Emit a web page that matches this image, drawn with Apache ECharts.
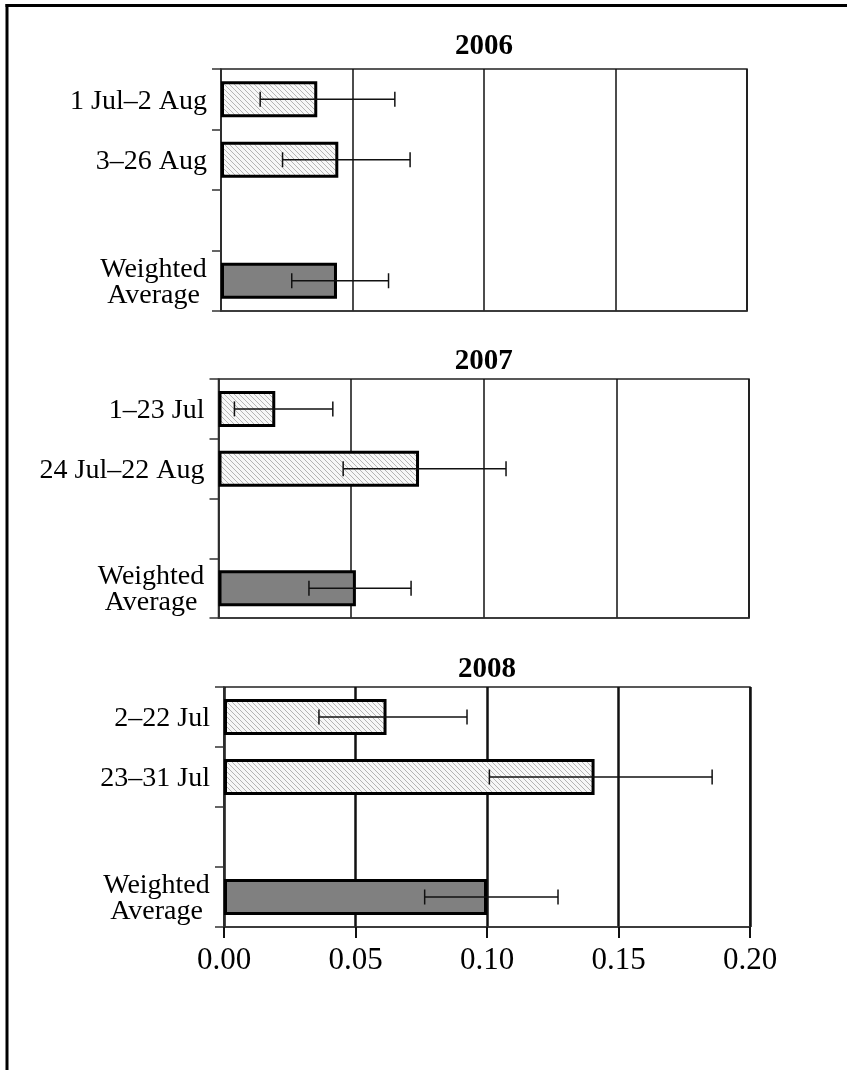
<!DOCTYPE html>
<html>
<head>
<meta charset="utf-8">
<title>Weighted averages 2006–2008</title>
<script src="https://cdn.jsdelivr.net/npm/echarts@6/dist/echarts.min.js"></script>
<style>
  html, body { margin: 0; padding: 0; background: #fff; }
  #chart { width: 847px; height: 1070px; }
</style>
</head>
<body>
<div id="chart"></div>
<script>
// Period labels per season (third slot is an intentional gap before the average)
const cats2006 = ['1 Jul–2 Aug', '3–26 Aug', '', 'Weighted\nAverage'];
const cats2007 = ['1–23 Jul', '24 Jul–22 Aug', '', 'Weighted\nAverage'];
const cats2008 = ['2–22 Jul', '23–31 Jul', '', 'Weighted\nAverage'];

// Estimates
const vals2006 = [0.0366, 0.0446, null, 0.0441];
const vals2007 = [0.0214, 0.0756, null, 0.0518];
const vals2008 = [0.0618, 0.1409, null, 0.1000];

// Lower / upper confidence limits
const low2006 = [0.0149, 0.0234, null, 0.0269];
const high2006 = [0.0661, 0.0719, null, 0.0637];
const low2007 = [0.0060, 0.0470, null, 0.0341];
const high2007 = [0.0431, 0.1084, null, 0.0726];
const low2008 = [0.0361, 0.1009, null, 0.0763];
const high2008 = [0.0924, 0.1856, null, 0.1270];

const years = ['2006', '2007', '2008'];
const xTicks = [0.00, 0.05, 0.10, 0.15, 0.20];

const SERIF = '"Liberation Serif", "DejaVu Serif", serif';
const CAT_SIZE = 28;

// Width of the widest line of a two-line label, so both lines centre on each other
function textWidth(str, size) {
  const ctx = document.createElement('canvas').getContext('2d');
  ctx.font = size + 'px ' + SERIF;
  return Math.ceil(ctx.measureText(str).width);
}

// Diagonal hatch tile for the sub-period bars
function hatchPattern() {
  const s = 5;
  const c = document.createElement('canvas');
  c.width = s; c.height = s;
  const g = c.getContext('2d');
  g.fillStyle = '#f7f7f7';
  g.fillRect(0, 0, s, s);
  g.strokeStyle = '#b4b4b4';
  g.lineWidth = 1;
  g.beginPath();
  g.moveTo(0, 0); g.lineTo(s, s);
  g.moveTo(-1, s - 1); g.lineTo(1, s + 1);
  g.moveTo(s - 1, -1); g.lineTo(s + 1, 1);
  g.stroke();
  return { image: c, repeat: 'repeat' };
}
const hatch = hatchPattern();

const panels = [
  { cats: cats2006, vals: vals2006, low: low2006, high: high2006,
    grid: { left: 221, top: 69, width: 526, height: 242 }, bold: false, titleGap: 37 },
  { cats: cats2007, vals: vals2007, low: low2007, high: high2007,
    grid: { left: 218.5, top: 379, width: 530.5, height: 239 }, bold: false, titleGap: 32 },
  { cats: cats2008, vals: vals2008, low: low2008, high: high2008,
    grid: { left: 224, top: 687, width: 526, height: 240 }, bold: true, titleGap: 32 }
];

const grids = [], xAxes = [], yAxes = [], series = [], titles = [];

panels.forEach((p, i) => {
  const last = i === panels.length - 1;
  grids.push(Object.assign({
    show: true, borderColor: '#222', borderWidth: 1.5, backgroundColor: 'transparent'
  }, p.grid));

  xAxes.push({
    gridIndex: i, type: 'value', min: xTicks[0], max: xTicks[xTicks.length - 1], interval: 0.05,
    axisLine: { show: true, lineStyle: { color: '#333', width: 1.5 } },
    axisTick: { show: last, length: 11, lineStyle: { color: '#111', width: 2 } },
    axisLabel: {
      show: last, margin: 18, fontFamily: SERIF, fontSize: 31, color: '#000',
      formatter: v => v.toFixed(2)
    },
    splitLine: { show: true, lineStyle: { color: '#111', width: p.bold ? 2.5 : 1.5 } }
  });

  yAxes.push({
    gridIndex: i, type: 'category', data: p.cats, inverse: true,
    axisLine: { show: true, lineStyle: { color: '#333', width: 1.5 } },
    axisTick: { show: true, length: 9, interval: 0, lineStyle: { color: '#333', width: 1.5 } },
    axisLabel: {
      interval: 0, margin: 14, fontFamily: SERIF, fontSize: CAT_SIZE, color: '#000',
      lineHeight: 28, align: 'right', padding: [4, 0, 0, 0],
      formatter: v => {
        const lines = v.split('\n');
        if (lines.length < 2) return v;
        return lines.map(l => '{c|' + l + '}').join('\n');
      },
      rich: {
        c: {
          width: Math.max(...p.cats.flatMap(v => v.indexOf('\n') >= 0 ? v.split('\n') : [])
            .map(l => textWidth(l, CAT_SIZE))),
          align: 'center', fontFamily: SERIF, fontSize: CAT_SIZE, lineHeight: 26, color: '#000'
        }
      }
    },
    splitLine: { show: false }
  });

  series.push({
    type: 'bar', xAxisIndex: i, yAxisIndex: i, barWidth: 36,
    data: p.vals.map((v, k) => ({
      value: v,
      itemStyle: {
        color: p.cats[k].indexOf('Weighted') === 0 ? '#808080' : hatch,
        borderColor: '#000', borderWidth: 3
      }
    })),
    z: 3, silent: true
  });

  series.push({
    type: 'custom', xAxisIndex: i, yAxisIndex: i, z: 5, silent: true,
    encode: { x: [1, 2], y: 0 },
    data: p.low.map((lo, k) => lo == null ? null : [k, lo, p.high[k]]).filter(d => d),
    renderItem: (params, api) => {
      const a = api.coord([api.value(1), api.value(0)]);
      const b = api.coord([api.value(2), api.value(0)]);
      const cap = 7.5;
      const style = { stroke: '#111', lineWidth: 1.5 };
      return {
        type: 'group',
        children: [
          { type: 'line', shape: { x1: a[0], y1: a[1], x2: b[0], y2: b[1] }, style },
          { type: 'line', shape: { x1: a[0], y1: a[1] - cap, x2: a[0], y2: a[1] + cap }, style },
          { type: 'line', shape: { x1: b[0], y1: b[1] - cap, x2: b[0], y2: b[1] + cap }, style }
        ]
      };
    }
  });

  titles.push({
    text: years[i], left: p.grid.left + p.grid.width / 2, top: p.grid.top - p.titleGap,
    textAlign: 'center', padding: 0,
    textStyle: { fontFamily: SERIF, fontWeight: 'bold', fontSize: 29, color: '#000' }
  });
});

const chart = echarts.init(document.getElementById('chart'), null, { renderer: 'canvas' });
chart.setOption({
  animation: false,
  backgroundColor: '#fff',
  title: titles,
  grid: grids,
  xAxis: xAxes,
  yAxis: yAxes,
  series: series,
  graphic: [
    { type: 'line', shape: { x1: 7, y1: 4, x2: 7, y2: 1070 }, style: { stroke: '#000', lineWidth: 3 } },
    { type: 'line', shape: { x1: 5.5, y1: 5.5, x2: 847, y2: 5.5 }, style: { stroke: '#000', lineWidth: 3 } }
  ]
});
</script>
</body>
</html>
